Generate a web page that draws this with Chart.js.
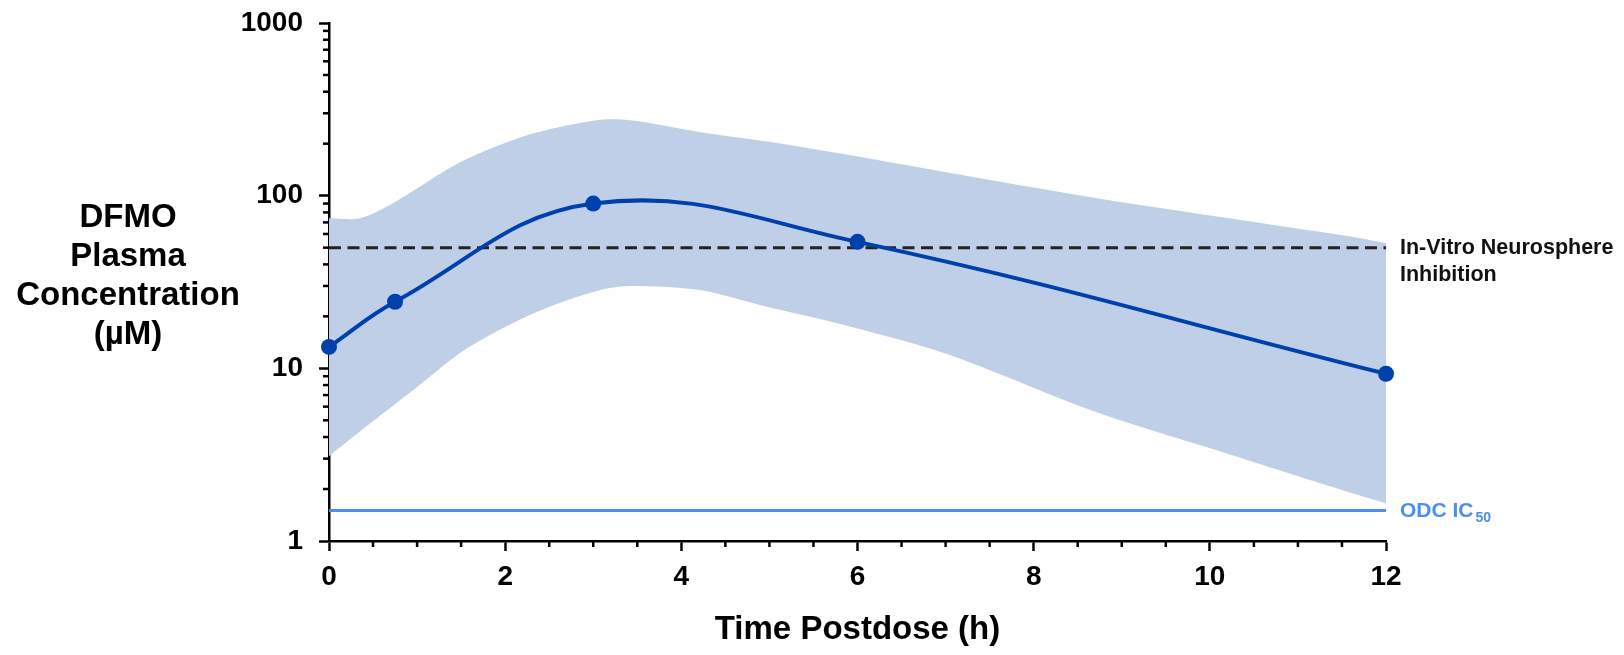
<!DOCTYPE html>
<html>
<head>
<meta charset="utf-8">
<script src="https://cdn.jsdelivr.net/npm/chart.js@4.4.1/dist/chart.umd.min.js"></script>
<style>
html,body{margin:0;padding:0;background:#fff;}
canvas{display:block;}
</style>
</head>
<body>
<canvas id="c" width="1624" height="655"></canvas>
<script>
// ---- data ----
const timePoints = [0, 0.75, 3, 6, 12];
const concMedian = [13.3, 24.3, 90, 54, 9.3];

const upperTimes = [0, 0.35, 0.75, 1.5, 2.25, 3.0, 3.4, 4.2, 5.0, 5.9, 8.6, 11.6, 12];
const upperConc  = [74, 74, 92, 157, 224, 272, 274, 234, 205, 172, 99, 58, 53];

const lowerTimes = [0, 0.47, 1.0, 1.56, 2.32, 3.08, 3.45, 4.21, 4.97, 5.7, 6.7, 7.2, 8.7, 10.2, 11.6, 12];
const lowerConc  = [3.1, 4.8, 7.8, 13.0, 20.8, 28.4, 30.0, 28.4, 22.7, 18.6, 13.6, 11.2, 5.6, 3.2, 1.9, 1.65];

const neurosphereLevel = 50;
const odcIC50Level = 1.5;

const xMajorTicks = [0, 2, 4, 6, 8, 10, 12];
const xMinorTicks = [0.5, 1, 1.5, 2.5, 3, 3.5, 4.5, 5, 5.5, 6.5, 7, 7.5, 8.5, 9, 9.5, 10.5, 11, 11.5];
const yMajorTicks = [1, 10, 100, 1000];
const yMinorTicks = [2,3,4,5,6,7,8,9,20,30,40,50,60,70,80,90,200,300,400,500,600,700,800,900];

const yTitleLines = ['DFMO', 'Plasma', 'Concentration', '(µM)'];
const xTitle = 'Time Postdose (h)';
const neurosphereLabel = ['In-Vitro Neurosphere', 'Inhibition'];
const odcLabel = 'ODC IC';
const odcSub = '50';

// ---- helpers ----
const FONT = '"Liberation Sans", Arial, Helvetica, sans-serif';
const xy = (xs, ys) => xs.map((x, i) => ({x: x, y: ys[i]}));
const BAND = '#c0cfe8';
const MAIN = '#0040ad';
const ODC = '#4a8ef5';

const decor = {
  id: 'decor',
  afterDraw(chart) {
    const {ctx, chartArea, scales} = chart;
    const x = scales.x, y = scales.y;
    ctx.save();
    ctx.strokeStyle = '#000';
    ctx.lineWidth = 2.5;
    yMinorTicks.forEach(v => {
      const py = y.getPixelForValue(v);
      ctx.beginPath();
      ctx.moveTo(chartArea.left, py);
      ctx.lineTo(chartArea.left - 6, py);
      ctx.stroke();
    });
    xMinorTicks.forEach(v => {
      const px = x.getPixelForValue(v);
      ctx.beginPath();
      ctx.moveTo(px, chartArea.bottom);
      ctx.lineTo(px, chartArea.bottom + 6);
      ctx.stroke();
    });
    // y-axis title (horizontal, stacked)
    ctx.fillStyle = '#000';
    ctx.font = 'bold 33px ' + FONT;
    ctx.textAlign = 'center';
    ctx.textBaseline = 'alphabetic';
    yTitleLines.forEach((t, i) => ctx.fillText(t, 128, 227 + 39 * i));
    // annotations at right
    ctx.textAlign = 'left';
    ctx.textBaseline = 'middle';
    ctx.font = 'bold 21.5px ' + FONT;
    ctx.fillStyle = '#111';
    const yn = y.getPixelForValue(neurosphereLevel);
    neurosphereLabel.forEach((t, i) => ctx.fillText(t, chartArea.right + 14, yn + 27 * i));
    const yo = y.getPixelForValue(odcIC50Level);
    ctx.fillStyle = ODC;
    ctx.font = 'bold 21px ' + FONT;
    ctx.fillText(odcLabel, chartArea.right + 14, yo + 1);
    const w = ctx.measureText(odcLabel).width;
    ctx.font = 'bold 14px ' + FONT;
    ctx.fillText(odcSub, chartArea.right + 14 + w + 2, yo + 8);
    ctx.restore();
  }
};

new Chart(document.getElementById('c'), {
  type: 'line',
  data: {
    datasets: [
      {
        label: 'Median',
        data: xy(timePoints, concMedian),
        borderColor: MAIN,
        backgroundColor: MAIN,
        borderWidth: 4,
        pointRadius: 8,
        pointHoverRadius: 8,
        pointBorderWidth: 0,
        tension: 0.4,
        fill: false,
        clip: false,
        order: 0
      },
      {
        label: 'Neurosphere',
        data: xy([0, 12], [neurosphereLevel, neurosphereLevel]),
        borderColor: '#222',
        borderWidth: 3,
        borderDash: [12, 6.5],
        pointRadius: 0,
        fill: false,
        order: 1
      },
      {
        label: 'ODC IC50',
        data: xy([0, 12], [odcIC50Level, odcIC50Level]),
        borderColor: ODC,
        borderWidth: 3,
        pointRadius: 0,
        fill: false,
        order: 2
      },
      {
        label: 'Upper',
        data: xy(upperTimes, upperConc),
        borderWidth: 0,
        borderColor: 'rgba(0,0,0,0)',
        backgroundColor: BAND,
        pointRadius: 0,
        tension: 0.3,
        fill: '+1',
        order: 3
      },
      {
        label: 'Lower',
        data: xy(lowerTimes, lowerConc),
        borderWidth: 0,
        borderColor: 'rgba(0,0,0,0)',
        backgroundColor: BAND,
        pointRadius: 0,
        tension: 0.3,
        fill: false,
        order: 4
      }
    ]
  },
  options: {
    responsive: false,
    animation: false,
    devicePixelRatio: 1,
    layout: { padding: { top: 23, right: 238, left: 0, bottom: 0 } },
    plugins: { legend: { display: false }, tooltip: { enabled: false } },
    scales: {
      x: {
        type: 'linear',
        min: 0,
        max: 12,
        afterBuildTicks: s => { s.ticks = xMajorTicks.map(v => ({value: v})); },
        afterFit: s => { s.height = 114; s.paddingLeft = 0; s.paddingRight = 0; },
        ticks: {
          color: '#000',
          font: { family: FONT, size: 28, weight: 'bold' },
          padding: 9,
          maxRotation: 0,
          autoSkip: false,
          callback: v => String(v)
        },
        grid: { drawOnChartArea: false, drawTicks: true, tickLength: 10, tickWidth: 2.5, tickColor: '#000' },
        border: { display: true, color: '#000', width: 2.5 },
        title: {
          display: true,
          text: xTitle,
          color: '#000',
          font: { family: FONT, size: 33, weight: 'bold' },
          padding: { top: 0, bottom: 5 }
        }
      },
      y: {
        type: 'logarithmic',
        min: 1,
        max: 1000,
        afterBuildTicks: s => { s.ticks = yMajorTicks.map(v => ({value: v, major: true})); },
        afterFit: s => { s.width = 329; s.paddingTop = 0; s.paddingBottom = 0; },
        ticks: {
          color: '#000',
          font: { family: FONT, size: 28, weight: 'bold' },
          padding: 16,
          autoSkip: false,
          callback: v => String(v)
        },
        grid: { drawOnChartArea: false, drawTicks: true, tickLength: 10, tickWidth: 2.5, tickColor: '#000' },
        border: { display: true, color: '#000', width: 2.5 }
      }
    }
  },
  plugins: [decor]
});
</script>
</body>
</html>
